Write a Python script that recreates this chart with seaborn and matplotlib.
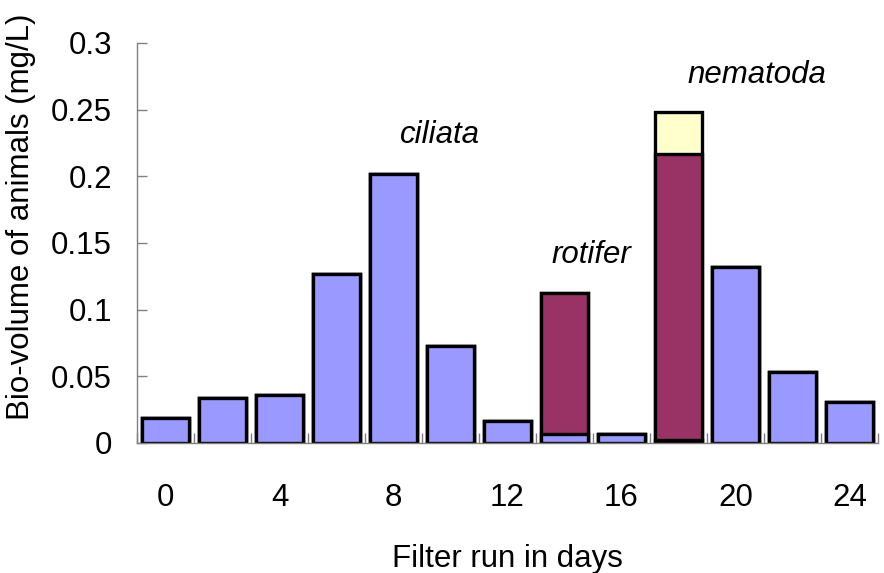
import matplotlib
matplotlib.use("Agg")
import matplotlib.pyplot as plt
import seaborn as sns
import pandas as pd
import numpy as np

# Filter run (days) and bio-volume per animal group (mg/L)
days = [0, 2, 4, 6, 8, 10, 12, 14, 16, 18, 20, 22, 24]
ciliata = [0.019, 0.0335, 0.036, 0.127, 0.2015, 0.0725, 0.0167, 0.0065, 0.0068, 0.002, 0.1323, 0.0535, 0.0305]
rotifer = [0, 0, 0, 0, 0, 0, 0, 0.1058, 0, 0.2145, 0, 0, 0]
nematoda = [0, 0, 0, 0, 0, 0, 0, 0, 0, 0.032, 0, 0, 0]

xtick_labels = ["0", "4", "8", "12", "16", "20", "24"]
ytick_values = [0, 0.05, 0.1, 0.15, 0.2, 0.25, 0.3]
ytick_labels = ["0", "0.05", "0.1", "0.15", "0.2", "0.25", "0.3"]

sns.set_style("white")
plt.rcParams["font.family"] = ["Liberation Sans", "DejaVu Sans"]
plt.rcParams["text.color"] = "black"
plt.rcParams["axes.labelcolor"] = "black"

FS = 22.5

df = pd.DataFrame({"day": days, "ciliata": ciliata, "rotifer": rotifer, "nematoda": nematoda})
df["cil_rot"] = df["ciliata"] + df["rotifer"]
df["total"] = df["cil_rot"] + df["nematoda"]

fig = plt.figure(figsize=(8.84, 5.73), dpi=100)
ax = fig.add_axes([0.155, 0.2269, 0.838, 0.6981])

bar_kw = dict(edgecolor="black", linewidth=2.4, width=0.825, errorbar=None, ax=ax, order=days)
# stacked bars drawn as cumulative layers, back to front
sns.barplot(data=df, x="day", y="total", color="#FFFFCC", saturation=1, **bar_kw)
sns.barplot(data=df, x="day", y="cil_rot", color="#993366", saturation=1, **bar_kw)
sns.barplot(data=df, x="day", y="ciliata", color="#9999FF", saturation=1, **bar_kw)

ax.set_xlim(-0.5, len(days) - 0.5)
ax.set_ylim(0, 0.3)

ax.set_xticks(np.arange(0, len(days), 2))
ax.set_xticklabels(xtick_labels)
ax.set_xticks(np.arange(-0.5, len(days), 1), minor=True)
ax.tick_params(axis="x", which="major", bottom=True, length=0, pad=29,
               labelsize=FS, labelcolor="black")
ax.tick_params(axis="x", which="minor", bottom=True, direction="in", length=7,
               width=1, color="#808080")

ax.set_yticks(ytick_values)
ax.set_yticklabels(ytick_labels)
ax.tick_params(axis="y", left=True, direction="in", length=7, width=1, color="#808080",
               pad=18, labelsize=FS, labelcolor="black")

for side in ["top", "right"]:
    ax.spines[side].set_visible(False)
for side in ["left", "bottom"]:
    ax.spines[side].set_color("#808080")
    ax.spines[side].set_linewidth(1)

ax.set_xlabel("Filter run in days", fontsize=FS)
ax.set_ylabel("Bio-volume of animals (mg/L)", fontsize=FS)
ax.xaxis.set_label_coords(0.5, -0.253)
ax.yaxis.set_label_coords(-0.136, 0.565)

ax.text(4.82, 0.231, "ciliata", style="italic", fontsize=FS, ha="center", va="center")
ax.text(7.48, 0.141, "rotifer", style="italic", fontsize=FS, ha="center", va="center")
ax.text(10.38, 0.276, "nematoda", style="italic", fontsize=FS, ha="center", va="center")

fig.savefig("out.png", dpi=100)
